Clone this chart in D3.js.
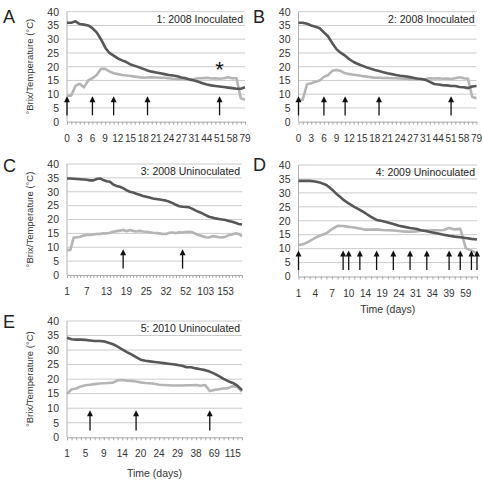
<!DOCTYPE html>
<html><head><meta charset="utf-8">
<script src="https://cdn.jsdelivr.net/npm/d3@7"></script>
<style>body{margin:0;background:#fff}svg{display:block;font-family:"Liberation Sans",Arial,sans-serif}</style>
</head><body><svg id="c" width="483" height="481"></svg>
<script>
// ---------- data ----------
const yTicks = [0,5,10,15,20,25,30,35,40];

const daysAB = [0,1,2,3,4,5,6,7,8,9,10,11,12,13,14,15,16,17,18,19,20,21,22,23,24,25,26,27,29,30,31,34,38,44,46,48,51,53,55,58,65,72,79];
const brixA = [36,36,36.5,35.5,35.3,35,34,32.5,30,27,25,24,23,22.3,21.7,20.8,20.3,19.8,19.2,18.6,18.2,17.9,17.6,17.3,17,16.8,16.5,16.1,15.8,15.3,15,14.5,14,13.5,13.2,13,12.8,12.6,12.4,12.2,12,12,12.5];
const tempA = [9.5,9.5,13,13.8,12.5,15,15.8,17,19.2,19.2,18.3,17.6,17.3,17,16.8,16.6,16.4,16.2,16,16.1,16.2,16.1,16,16,15.8,15.6,15.5,15.5,15.4,15.3,15.5,15.8,15.8,16,15.7,15.8,15.6,15.8,16.2,15.8,15.8,8.5,8];
const brixB = [36,36,35.6,35,34.5,34,32.5,31,28.5,26.3,25,24,22.7,21.7,21,20.4,19.8,19.3,18.8,18.4,18,17.6,17.3,17,16.7,16.5,16.3,16,15.7,15.5,15.2,14.5,13.7,13.5,13.3,13.2,13,13,12.6,12.5,12.2,12.8,13];
const tempB = [8,8,13.6,14,14.5,15,16.3,17,18.5,18.8,18.4,17.6,17.3,17.1,16.9,16.6,16.4,16.2,16,16,15.9,15.9,15.8,15.8,15.7,15.6,15.5,15.5,15.4,15.4,15.5,15.8,15.7,15.8,15.6,15.7,15.5,15.8,16.2,15.8,15.6,9,8.5];
const arrowsAB = [0,6,11,19,51];

const daysC = [1,2,3,4,5,6,7,8,9,10,11,12,13,14,15,16,17,18,19,20,21,22,23,24,25,26,27,28,29,30,32,34,36,39,43,47,52,60,68,77,86,95,103,111,119,128,136,145,153,161,170,178,186,194];
const brixC = [34.8,34.8,34.7,34.6,34.5,34.4,34.3,34.1,34.1,34.6,34.8,34.2,33.8,33.6,32.6,32.1,31.8,31.3,30.6,30,29.7,29.3,28.9,28.5,28.2,27.9,27.6,27.4,27.2,27,26.8,26.4,25.9,25.3,24.8,24.6,24.5,24.4,23.8,23.2,22.7,22.2,21.6,21,20.7,20.4,20.2,20,19.8,19.5,19.2,18.8,18.4,18.2];
const tempC = [9,9,13.4,13.6,13.8,14.2,14.4,14.4,14.6,14.8,14.8,15,15,15.2,15.6,15.8,16,16.2,15.8,16.2,15.9,15.7,15.9,15.7,15.6,15.4,15.2,15.1,15,14.8,14.8,15.2,15.3,15.1,15.4,15.3,15.5,15.6,15.4,14.8,14.3,14,13.6,13.5,14,13.9,13.6,13.5,13.8,14.4,14.6,15,14.8,14];
const arrowsC = [18,47];

const daysD = [1,2,3,4,5,6,7,8,9,10,11,13,14,16,17,19,20,22,24,26,28,31,32,33,34,35,37,39,44,52,59,63,66];
const brixD = [34.3,34.3,34.3,34.1,33.6,32.8,31.2,29.3,27.6,26.2,25,23.9,22.7,21.4,20.3,19.9,19.4,18.8,18.2,17.8,17.4,17.1,16.6,16.2,15.8,15.4,15,14.6,14.3,14.1,13.8,13.5,13.3];
const tempD = [11.2,11.7,12.7,13.9,14.8,15.5,17,18.2,18.1,17.8,17.6,17.2,16.8,16.8,16.9,16.7,16.6,16.5,16.3,16.1,16.1,16.2,16.4,16.5,16.6,16.6,16.7,17.4,16.9,17.1,10.2,9.3,8.3];
const arrowsD = [1,9,10,13,17,22,28,33,39,52,63,66];

const daysE = [1,2,3,4,5,6,7,8,9,10,11,12,14,15,17,18,20,21,22,23,24,25,26,28,29,31,33,35,38,45,52,60,69,80,92,103,115,122,130];
const brixE = [34.2,33.7,33.6,33.6,33.5,33.3,33.1,33.1,33,32.5,32,31.2,30.2,29.3,28.5,27.6,26.7,26.3,26.1,25.9,25.7,25.5,25.3,25.1,24.9,24.6,24.1,24.1,23.7,23.4,23.1,22.6,21.9,21,20.1,19.3,18.7,17.8,16.2];
const tempE = [15,16.5,16.8,17.5,17.9,18.1,18.3,18.5,18.6,18.7,18.8,19.6,19.7,19.5,19.4,19.2,18.9,18.7,18.6,18.4,18.1,18,17.9,17.8,17.8,17.8,17.9,17.9,18,17.7,18,15.9,16.3,16.5,16.8,16.9,17.6,17.3,15.7];
const arrowsE = [6,18,60];

const panelLetters = ["A","B","C","D","E"];
const panelTitles = ["1: 2008 Inoculated","2: 2008 Inoculated","3: 2008 Uninoculated","4: 2009 Uninoculated","5: 2010 Uninoculated"];
const yTitle = "°Brix/Temperature (°C)";
const xTitle = "Time (days)";

// ---------- drawing ----------
const svg = d3.select("#c");
const BRIX = "#575757", TEMP = "#b5b5b5";

const panels = [
  {days:daysAB, brix:brixA, temp:tempA, arrows:arrowsAB, step:3, x0:67, x1:245, yb:121.7, yt:11.7, lx:3, ly:23, ytitle:true, star:51},
  {days:daysAB, brix:brixB, temp:tempB, arrows:arrowsAB, step:3, x0:298.5, x1:476.5, yb:121.7, yt:11.7, lx:253, ly:23},
  {days:daysC, brix:brixC, temp:tempC, arrows:arrowsC, step:6, x0:67, x1:242, yb:275, yt:164, lx:3, ly:172, ytitle:true},
  {days:daysD, brix:brixD, temp:tempD, arrows:arrowsD, step:3, x0:298.5, x1:477, yb:276.5, yt:165, lx:253, ly:171, xtitle:36.5},
  {days:daysE, brix:brixE, temp:tempE, arrows:arrowsE, step:4, x0:67, x1:242, yb:437.3, yt:321, lx:3, ly:328, ytitle:true, xtitle:40}
];

panels.forEach((p,i)=>{
  const g = svg.append("g");
  const x = d3.scalePoint().domain(p.days.map(String)).range([p.x0,p.x1]);
  const y = d3.scaleLinear().domain([0,40]).range([p.yb,p.yt]);

  g.selectAll("line.grid").data(yTicks.filter(t=>t>0)).join("line")
    .attr("x1",p.x0).attr("x2",p.x1).attr("y1",d=>y(d)).attr("y2",d=>y(d))
    .attr("stroke","#cccccc").attr("stroke-width",1);
  g.append("line").attr("x1",p.x0).attr("x2",p.x0).attr("y1",y(0)).attr("y2",y(40))
    .attr("stroke","#b0b0b0");
  g.selectAll("text.yl").data(yTicks).join("text")
    .attr("x",p.x0-8).attr("y",d=>y(d)+3.8).attr("text-anchor","end")
    .attr("font-size",10.5).attr("fill","#333").text(d=>d);

  const ax = g.append("g").attr("transform",`translate(0,${y(0)})`)
    .call(d3.axisBottom(x).tickSize(3).tickSizeOuter(0).tickFormat(""));
  ax.select(".domain").attr("stroke","#a8a8a8");
  ax.selectAll(".tick line").attr("stroke","#a8a8a8");
  g.selectAll("text.xl").data(p.days.filter((d,k)=>k%p.step===0)).join("text")
    .attr("x",d=>x(String(d))).attr("y",y(0)+20).attr("text-anchor","middle")
    .attr("font-size",10).attr("fill","#333").text(d=>d);

  const line = d3.line().x((d,k)=>x(String(p.days[k]))).y(d=>y(d));
  g.append("path").datum(p.temp).attr("d",line).attr("fill","none")
    .attr("stroke",TEMP).attr("stroke-width",2.6).attr("stroke-linejoin","round");
  g.append("path").datum(p.brix).attr("d",line).attr("fill","none")
    .attr("stroke",BRIX).attr("stroke-width",2.6).attr("stroke-linejoin","round");

  p.arrows.forEach(a=>{
    const ax0 = x(String(a));
    const yb = y(2.3), yt = y(9.3);
    g.append("line").attr("x1",ax0).attr("x2",ax0).attr("y1",yb).attr("y2",yt+4)
      .attr("stroke","#111").attr("stroke-width",1.3);
    g.append("path").attr("d",`M${ax0},${yt}L${ax0-3},${yt+6}L${ax0+3},${yt+6}Z`)
      .attr("fill","#111");
  });

  if(p.star!==undefined){
    g.append("text").attr("x",x(String(p.star))).attr("y",y(20.6)+12)
      .attr("text-anchor","middle").attr("font-size",22).attr("fill","#111").text("*");
  }

  g.append("text").attr("x",p.x1-2).attr("y",p.yt+11).attr("text-anchor","end")
    .attr("font-size",10.5).attr("fill","#222").text(panelTitles[i]);
  g.append("text").attr("x",p.lx).attr("y",p.ly).attr("font-size",18).attr("fill","#222")
    .text(panelLetters[i]);
  if(p.ytitle){
    const cy=(y(0)+y(40))/2;
    g.append("text").attr("transform",`translate(33,${cy}) rotate(-90)`)
      .attr("text-anchor","middle").attr("font-size",9.5).attr("fill","#333").text(yTitle);
  }
  if(p.xtitle){
    g.append("text").attr("x",(p.x0+p.x1)/2).attr("y",y(0)+p.xtitle).attr("text-anchor","middle")
      .attr("font-size",10.5).attr("fill","#333").text(xTitle);
  }
});
</script></body></html>
